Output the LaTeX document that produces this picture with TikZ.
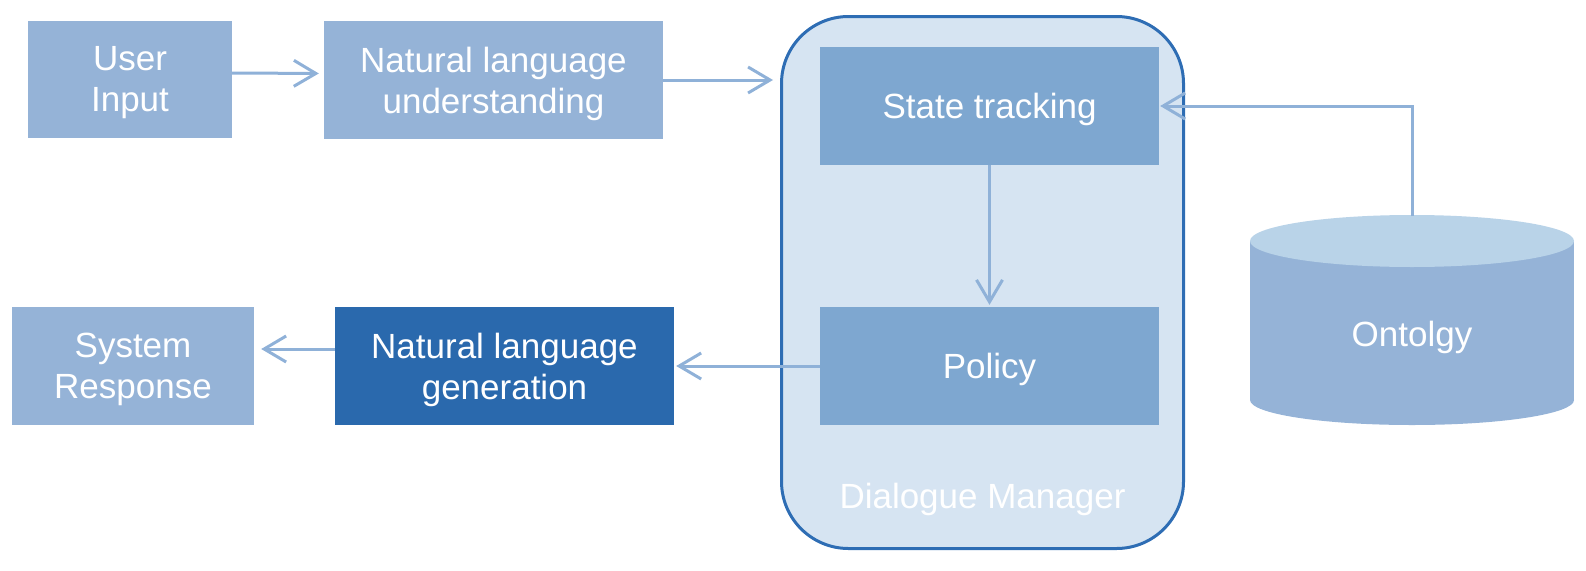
\documentclass[tikz,border=0pt]{standalone}
\usepackage{fontspec}
\setmainfont{Liberation Sans}
\usetikzlibrary{arrows.meta}
\definecolor{boxlight}{HTML}{95B3D7}
\definecolor{boxmid}{HTML}{7EA7D0}
\definecolor{boxdark}{HTML}{2A69AD}
\definecolor{dmfill}{HTML}{D6E4F2}
\definecolor{dmline}{HTML}{2E6DB4}
\definecolor{cyltop}{HTML}{B9D3E8}
\definecolor{arrcol}{HTML}{8FB1D8}
\tikzset{
  blktext/.style={inner sep=0pt, text=white, align=center,
    font=\fontsize{35}{41}\selectfont, yshift=-3.5pt},
  blk/.style={rectangle, inner sep=0pt},
  arr/.style={draw=arrcol, line width=3pt, -{Straight Barb[length=22pt,width=26pt,line width=3pt]}},
}
\begin{document}
\begin{tikzpicture}[x=1pt,y=-1pt]
\useasboundingbox (0,0) rectangle (1586,570);
% Dialogue manager container
\node[draw=dmline, fill=dmfill, line width=3pt, rounded corners=67pt,
      minimum width=402pt, minimum height=532pt, inner sep=0pt] (dm) at (982.5,282.5) {};
\node[anchor=base, text=white, font=\fontsize{35}{41}\selectfont] (dmlabel) at (982.5,508) {Dialogue Manager};
% boxes
\node[blk, fill=boxlight, minimum width=204pt, minimum height=117pt,
      label={[blktext]center:User\\Input}] (ui) at (130,79.5) {};
\node[blk, fill=boxlight, minimum width=339pt, minimum height=118pt,
      label={[blktext]center:Natural language\\understanding}] (nlu) at (493.5,80) {};
\node[blk, fill=boxmid, minimum width=339pt, minimum height=118pt,
      label={[blktext]center:State tracking}] (st) at (989.5,106) {};
\node[blk, fill=boxmid, minimum width=339pt, minimum height=118pt,
      label={[blktext]center:Policy}] (pol) at (989.5,366) {};
\node[blk, fill=boxdark, minimum width=339pt, minimum height=118pt,
      label={[blktext]center:Natural language\\generation}] (nlg) at (504.5,366) {};
\node[blk, fill=boxlight, minimum width=242pt, minimum height=118pt,
      label={[blktext]center:System\\Response}] (sr) at (133,366) {};
% cylinder
\fill[boxlight] (1250,241) rectangle (1574,400);
\fill[boxlight] (1412,400) ellipse[x radius=162, y radius=25];
\fill[cyltop] (1412,241) ellipse[x radius=162, y radius=26];
\node[blktext] (onto) at (1412,334) {Ontolgy};
\coordinate (ontotop) at (1412,216);
% connectors
\draw[arr, shorten >=5pt] ([yshift=6.5pt]ui.east) -- ([yshift=6.5pt]nlu.west);
\draw[arr, shorten >=7pt] (nlu.east) -- (nlu.east -| dm.west);
\draw[arr, shorten >=2pt] (st.south) -- (pol.north);
\draw[arr, shorten >=2pt] (pol.west) -- (nlg.east);
\draw[arr, shorten >=7pt] ([yshift=17pt]nlg.west) -- ([yshift=17pt]sr.east);
\draw[arr, shorten >=1pt] (ontotop) |- (st.east);
\end{tikzpicture}
\end{document}
